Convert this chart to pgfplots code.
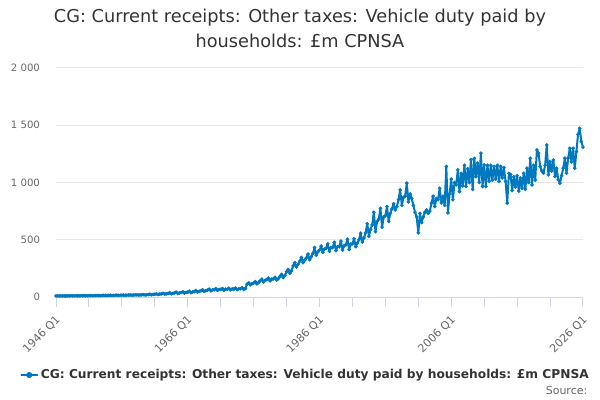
\documentclass[border=0pt]{standalone}
\usepackage{pgfplots}
\usepackage{pgfplotstable}
\pgfplotsset{compat=1.18}
\usepackage{fontspec}
\setmainfont{DejaVu Sans}
\definecolor{series}{RGB}{0,120,192}
\definecolor{titlec}{RGB}{51,51,51}
\definecolor{labelc}{RGB}{102,102,102}
\definecolor{gridc}{RGB}{230,230,230}
\definecolor{axisc}{RGB}{204,214,235}
\pgfplotstableread[header=false,row sep=\\]{
9\\10\\9\\9\\
10\\10\\9\\10\\
10\\11\\10\\10\\
11\\11\\10\\11\\
11\\12\\11\\11\\
12\\12\\11\\12\\
12\\13\\12\\12\\
13\\14\\13\\13\\
14\\15\\13\\14\\
15\\16\\14\\15\\
16\\17\\15\\16\\
17\\18\\16\\17\\
18\\19\\17\\18\\
19\\21\\18\\20\\
21\\24\\20\\22\\
24\\28\\22\\25\\
27\\32\\25\\28\\
31\\37\\28\\32\\
35\\42\\31\\36\\
38\\47\\34\\40\\
42\\51\\38\\44\\
48\\57\\44\\50\\
54\\63\\49\\56\\
60\\69\\54\\62\\
64\\73\\58\\66\\
66\\75\\60\\68\\
68\\77\\62\\70\\
70\\79\\64\\72\\
72\\81\\66\\74\\
112\\124\\106\\116\\
122\\134\\115\\126\\
142\\156\\132\\146\\
152\\166\\142\\156\\
158\\172\\148\\160\\
180\\198\\170\\188\\
220\\240\\208\\228\\
272\\300\\262\\285\\
312\\345\\300\\322\\
340\\375\\325\\352\\
380\\432\\365\\395\\
410\\445\\390\\418\\
425\\465\\400\\432\\
432\\478\\405\\440\\
440\\488\\410\\448\\
455\\505\\415\\462\\
465\\510\\440\\472\\
500\\558\\480\\515\\
560\\640\\530\\590\\
630\\740\\570\\660\\
680\\775\\610\\700\\
710\\790\\660\\730\\
770\\815\\760\\790\\
850\\935\\800\\870\\
880\\995\\830\\900\\
860\\800\\740\\700\\
560\\730\\650\\700\\
740\\760\\730\\750\\
820\\880\\790\\860\\
850\\950\\820\\880\\
800\\1140\\735\\900\\
1030\\850\\1000\\980\\
1110\\920\\1080\\970\\
1150\\965\\1120\\1000\\
1200\\940\\1210\\1050\\
1170\\1000\\1256\\965\\
1154\\965\\1150\\1010\\
1150\\1020\\1140\\1030\\
1150\\1010\\1140\\1040\\
1130\\1010\\820\\1080\\
1070\\930\\1050\\960\\
1060\\925\\1040\\950\\
1080\\940\\1125\\1000\\
1212\\979\\1150\\1020\\
1285\\1256\\1139\\1100\\
1081\\1150\\1328\\1067\\
1183\\1100\\1197\\1052\\
1125\\1023\\993\\1060\\
1125\\1212\\1081\\1212\\
1299\\1180\\1299\\1125\\
1270\\1420\\1474\\1357\\
1308\\
}\vehicledata
\begin{document}
\begin{tikzpicture}
\path[use as bounding box] (0,0) rectangle (450pt,300pt);
\node[text=titlec,font=\fontsize{13.3pt}{15pt}\selectfont] at (225pt,287pt) {CG: Current receipts: Other taxes: Vehicle duty paid by};
\node[text=titlec,font=\fontsize{13.3pt}{15pt}\selectfont] at (225pt,269pt) {households: £m CPNSA};
\begin{axis}[
  at={(42pt,77.25pt)}, anchor=south west,
  scale only axis, width=395.25pt, height=171.75pt,
  xmin=1946, xmax=2026, ymin=0, ymax=2000,
  axis x line*=bottom, axis y line*=left,
  y axis line style={draw=none},
  x axis line style={draw=axisc, line width=0.75pt},
  ytick={0,500,1000,1500,2000},
  yticklabels={0,500,1 000,1 500,2 000},
  ymajorgrids, grid style={draw=gridc, line width=0.75pt},
  major y tick style={draw=none},
  minor y tick style={draw=none},
  xtick={1946,1966,1986,2006,2026},
  xticklabels={1946 Q1,1966 Q1,1986 Q1,2006 Q1,2026 Q1},
  minor xtick={1951,1956,1961,1971,1976,1981,1991,1996,2001,2011,2016,2021},
  tick align=outside,
  major tick length=7.5pt, minor tick length=7.5pt,
  major x tick style={draw=axisc, line width=0.75pt},
  minor x tick style={draw=axisc, line width=0.75pt},
  xticklabel style={rotate=45, anchor=east, text=labelc, font=\fontsize{8.25pt}{10pt}\selectfont, xshift=-1pt, yshift=-7pt},
  yticklabel style={text=labelc, font=\fontsize{7.6pt}{9pt}\selectfont, xshift=-1pt},
  clip=false,
  legend style={at={(-0.0683,-0.3406)}, anchor=west, draw=none, fill=none,
    font=\bfseries\fontsize{9.15pt}{11pt}\selectfont, text=titlec,
    inner sep=0pt, legend cell align=left},
  legend image code/.code={\draw[#1,mark=none] (0pt,0pt) -- (12pt,0pt); \fill[series] (6pt,0pt) circle (1.5pt);},
]
\addplot[color=series, line width=1.5pt, line join=round, line cap=round, mark=*, mark size=1.3pt, mark options={fill=series, draw=series, line width=0.2pt}]
  table[x expr={1946+\coordindex*0.25}, y index=0] {\vehicledata};
\addlegendentry{CG: Current receipts: Other taxes: Vehicle duty paid by households: £m CPNSA}
\end{axis}
\node[anchor=east, text=labelc, font=\fontsize{8.25pt}{10pt}\selectfont] at (444pt,7.5pt) {Source:};
\end{tikzpicture}
\end{document}
